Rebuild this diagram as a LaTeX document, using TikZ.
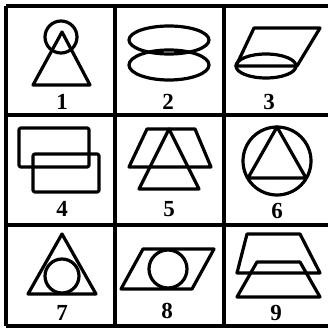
\documentclass[tikz,border=0pt]{standalone}
\usepackage{fontspec}
\setmainfont{Liberation Serif}
\begin{document}
\begin{tikzpicture}[x=1pt,y=-1pt,line width=3.2pt,line join=round,line cap=round,font=\fontsize{23}{23}\selectfont\bfseries]
\useasboundingbox (0,0) rectangle (328,331);
% grid
\draw[line width=3.4pt,line cap=butt] (6,6)--(330,6) (6,115)--(330,115) (6,225)--(330,225) (6,326)--(330,326)
(6,6)--(6,326) (115,6)--(115,326) (224,6)--(224,326);
% 1
\draw (61,37) circle (16);
\draw (62,32)--(90,85)--(33,85)--cycle;
% 2
\draw (169,40) ellipse (40 and 14);
\draw (169,65) ellipse (40 and 15);
% 3
\draw (254,28)--(320,28)--(297,66)--(236,66)--cycle;
\draw (266,66) ellipse (30 and 12);
% 4
\draw[rounded corners=2pt] (19,128) rectangle (89,167);
\draw[rounded corners=2pt] (33,154) rectangle (99,192);
% 5
\draw (147,129)--(195,129)--(211,167)--(129,167)--cycle;
\draw (169,129)--(199,189)--(139,189)--cycle;
% 6
\draw (277,161) circle (34);
\draw (277,127)--(306,178)--(248,178)--cycle;
% 7
\draw (62,234)--(96,294)--(28,294)--cycle;
\draw (62,276) circle (17);
% 8
\draw (143,249)--(214,249)--(192,289)--(121,289)--cycle;
\draw (168,269) circle (19);
% 9
\draw (247,234)--(300,234)--(320,273)--(237,273)--cycle;
\draw (257,262)--(300,262)--(320,297)--(237,297)--cycle;
% numbers
\foreach \n/\x/\y in {1/62/102,2/168/102,3/269/102,4/62/209,5/169/209,6/277/211,7/62/313,8/167/311,9/276/313}
\node (n\n) at (\x,\y) {\n};
\end{tikzpicture}
\end{document}
